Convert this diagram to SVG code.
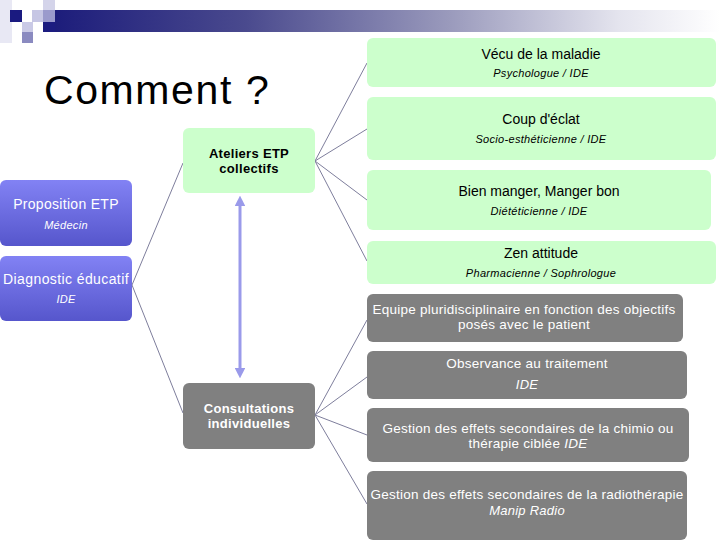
<svg xmlns="http://www.w3.org/2000/svg" width="720" height="540" viewBox="0 0 720 540">
<defs>
<linearGradient id="bar" x1="0" y1="0" x2="1" y2="0">
<stop offset="0" stop-color="#1a1a7a"/>
<stop offset="0.3" stop-color="#4a4a8e"/>
<stop offset="0.6" stop-color="#9a9abc"/>
<stop offset="0.85" stop-color="#e4e4ee"/>
<stop offset="1" stop-color="#ffffff"/>
</linearGradient>
<linearGradient id="purple" x1="0" y1="0" x2="0" y2="1">
<stop offset="0" stop-color="#8282f4"/>
<stop offset="1" stop-color="#5656cc"/>
</linearGradient>
<marker id="ah" viewBox="0 0 10 10" refX="5" refY="5" markerWidth="3.6" markerHeight="3.6" orient="auto-start-reverse" markerUnits="strokeWidth">
<path d="M0,0 L10,5 L0,10 Z" fill="#9a9aea"/>
</marker>
<style>
.green{fill:#ccffcc}
.grey{fill:#808080}
.purple{fill:url(#purple)}
.t{font-family:"Liberation Sans",Arial,sans-serif;text-anchor:middle}
.b{fill:#000;font-size:14px}
.s{fill:#000;font-size:11px;font-style:italic;letter-spacing:0.3px}
.w{fill:#fff;font-size:13.5px;letter-spacing:0.25px}
.wi{fill:#fff;font-size:13px;font-style:italic;letter-spacing:0.25px}
.con{stroke:#7e7e9c;stroke-width:1;fill:none}
</style>
</defs>
<rect width="720" height="540" fill="#fff"/>
<g id="header">
<rect x="0" y="0" width="12" height="43" fill="#e8e8f4"/>
<rect x="43" y="10" width="677" height="22" fill="url(#bar)"/>
<rect x="10" y="10" width="12" height="12" fill="#1a1a80"/>
<rect x="22" y="22" width="11" height="10" fill="#cacae6"/>
<rect x="22" y="32" width="11" height="11" fill="#8a8ac0"/>
<rect x="32" y="10" width="11" height="12" fill="#c6c6e4"/>
<rect x="43" y="0" width="12" height="10" fill="#d4d4ea"/>
<rect x="43" y="10" width="12" height="12" fill="#9a9acc"/>
<rect x="43" y="22" width="12" height="10" fill="#1c1c80"/>
</g>
<text x="44" y="104" class="t" style="text-anchor:start;font-size:41px;letter-spacing:1.6px;fill:#000">Comment ?</text>
<g id="connectors">
<line class="con" x1="132" y1="285" x2="183" y2="163"/>
<line class="con" x1="132" y1="285" x2="183" y2="413"/>
<line class="con" x1="315" y1="161" x2="367" y2="63"/>
<line class="con" x1="315" y1="161" x2="367" y2="129"/>
<line class="con" x1="315" y1="161" x2="367" y2="200"/>
<line class="con" x1="315" y1="161" x2="367" y2="261"/>
<line class="con" x1="315" y1="415" x2="367" y2="320"/>
<line class="con" x1="315" y1="415" x2="367" y2="377"/>
<line class="con" x1="315" y1="415" x2="367" y2="435"/>
<line class="con" x1="315" y1="415" x2="367" y2="504"/>
<line x1="240" y1="201" x2="240" y2="373" stroke="#9a9aea" stroke-width="3" marker-start="url(#ah)" marker-end="url(#ah)"/>
</g>
<g id="proposition">
<rect class="purple" x="0" y="180" width="132" height="66" rx="6"/>
<text class="t" x="66" y="209" style="fill:#fff;font-size:14px;letter-spacing:0.3px">Proposition ETP</text>
<text class="t" x="66" y="229" style="fill:#fff;font-size:11px;font-style:italic;letter-spacing:0.3px">Médecin</text>
</g>
<g id="diagnostic">
<rect class="purple" x="0" y="256" width="132" height="65" rx="6"/>
<text class="t" x="66" y="284" style="fill:#fff;font-size:14px;letter-spacing:0.4px">Diagnostic éducatif</text>
<text class="t" x="66" y="303" style="fill:#fff;font-size:11px;font-style:italic;letter-spacing:0.3px">IDE</text>
</g>
<g id="ateliers">
<rect class="green" x="183" y="128" width="132" height="65" rx="6"/>
<text class="t" x="249" y="158" style="fill:#000;font-size:13px;font-weight:bold;letter-spacing:0.3px">Ateliers ETP</text>
<text class="t" x="249" y="173" style="fill:#000;font-size:13px;font-weight:bold;letter-spacing:0.3px">collectifs</text>
</g>
<g id="consultations">
<rect class="grey" x="183" y="383" width="132" height="66" rx="6"/>
<text class="t" x="249" y="413" style="fill:#fff;font-size:13px;font-weight:bold;letter-spacing:0.3px">Consultations</text>
<text class="t" x="249" y="428" style="fill:#fff;font-size:13px;font-weight:bold;letter-spacing:0.3px">individuelles</text>
</g>
<g id="vecu">
<rect class="green" x="367" y="38" width="349" height="49" rx="6"/>
<text class="t b" x="541" y="59">Vécu de la maladie</text>
<text class="t s" x="541" y="77">Psychologue / IDE</text>
</g>
<g id="coup">
<rect class="green" x="367" y="97" width="349" height="63" rx="6"/>
<text class="t b" x="541" y="124">Coup d'éclat</text>
<text class="t s" x="541" y="143">Socio-esthéticienne / IDE</text>
</g>
<g id="bien">
<rect class="green" x="367" y="170" width="344" height="60" rx="6"/>
<text class="t b" x="539" y="196">Bien manger, Manger bon</text>
<text class="t s" x="539" y="215">Diététicienne / IDE</text>
</g>
<g id="zen">
<rect class="green" x="367" y="241" width="349" height="43" rx="6"/>
<text class="t b" x="541" y="258">Zen attitude</text>
<text class="t s" x="541" y="277">Pharmacienne / Sophrologue</text>
</g>
<g id="equipe">
<rect class="grey" x="367" y="294" width="316" height="48" rx="6"/>
<text class="t w" x="524" y="314">Equipe pluridisciplinaire en fonction des objectifs</text>
<text class="t w" x="524" y="329">posés avec le patient</text>
</g>
<g id="observance">
<rect class="grey" x="367" y="351" width="320" height="48" rx="6"/>
<text class="t w" x="527" y="368">Observance au traitement</text>
<text class="t wi" x="527" y="389">IDE</text>
</g>
<g id="chimio">
<rect class="grey" x="367" y="408" width="322" height="54" rx="6"/>
<text class="t w" x="528" y="433">Gestion des effets secondaires de la chimio ou</text>
<text class="t w" x="528" y="448">thérapie ciblée  <tspan font-style="italic">IDE</tspan></text>
</g>
<g id="radio">
<rect class="grey" x="367" y="471" width="320" height="69" rx="6"/>
<text class="t w" x="527" y="499">Gestion des effets secondaires de la radiothérapie</text>
<text class="t wi" x="527" y="515">Manip Radio</text>
</g>
</svg>
